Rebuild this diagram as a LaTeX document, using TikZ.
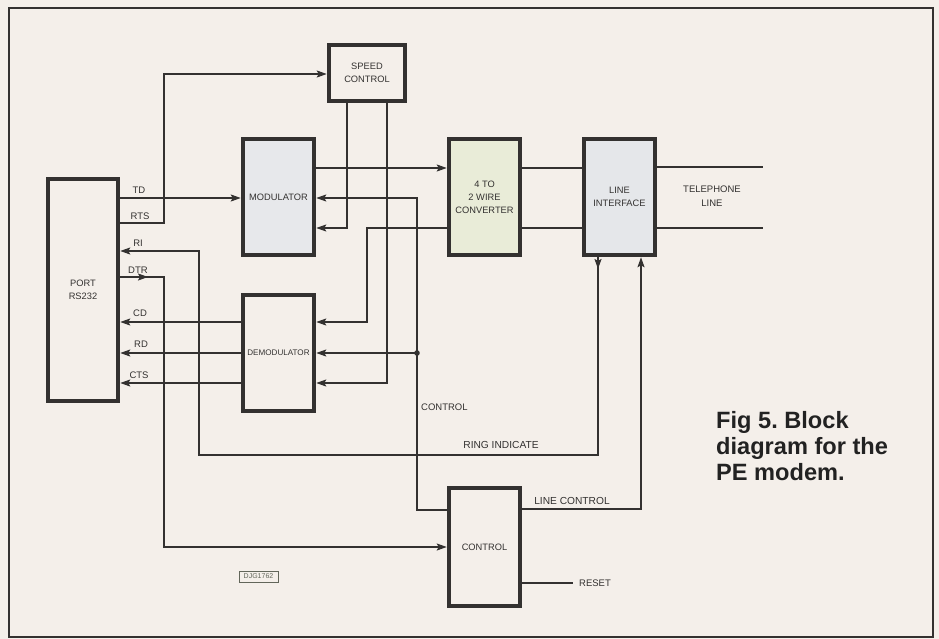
\documentclass[tikz,border=0pt]{standalone}
\usepackage{fontspec}
\setmainfont{Liberation Sans}
\usetikzlibrary{arrows.meta,calc}
\definecolor{bg}{HTML}{F4EFEA}
\definecolor{ink}{HTML}{333130}
\definecolor{modfill}{HTML}{E7E8EB}
\definecolor{convfill}{HTML}{E9ECD8}
\definecolor{lifill}{HTML}{E5E7EA}
\definecolor{djg}{HTML}{62665A}
\definecolor{capink}{HTML}{222222}
\begin{document}
\frenchspacing
\begin{tikzpicture}[x=1pt,y=-1pt,
  blk/.style={draw=ink, line width=4.5pt, inner sep=0pt, fill=bg,
    font=\fontsize{9.3}{12.8}\selectfont, text=ink, align=center},
  wire/.style={draw=ink, line width=1.8pt},
  arr/.style={wire, -{Stealth[length=10pt,width=7pt,inset=2pt]}},
  lab/.style={font=\fontsize{9.5}{14}\selectfont, text=ink, inner sep=0pt, align=center},
  biglab/.style={lab, font=\fontsize{10.2}{14}\selectfont},
  captext/.style={font=\fontsize{23.6}{26}\selectfont\bfseries, text=capink, inner sep=0pt, anchor=base west}]
\useasboundingbox (0,0) rectangle (939,639);
\fill[bg] (0,0) rectangle (939,639);
\draw[ink, line width=2pt] (9,8) rectangle (933,637);

% blocks
\node[blk, minimum width=70pt, minimum height=222pt] (port) at (83,290) {PORT\\RS232};
\node[blk, minimum width=76pt, minimum height=56pt] (speed) at (367,73) {SPEED\\CONTROL};
\node[blk, fill=modfill, minimum width=71pt, minimum height=116pt] (mod) at (278.5,197) {MODULATOR};
\node[blk, minimum width=71pt, minimum height=116pt, font=\fontsize{8.1}{10}\selectfont] (demod) at (278.5,353) {DEMODULATOR};
\node[blk, fill=convfill, minimum width=71pt, minimum height=116pt] (conv) at (484.5,197) {4 TO\\2 WIRE\\CONVERTER};
\node[blk, fill=lifill, minimum width=71pt, minimum height=116pt] (li) at (619.5,197) {LINE\\INTERFACE};
\node[blk, minimum width=71pt, minimum height=118pt] (ctrl) at (484.5,547) {CONTROL};

% free ends
\coordinate (tel1) at (763,167);
\coordinate (tel2) at (763,228);
\coordinate (rst) at (573,583);
\coordinate (j) at (417,353);

% port side
\draw[arr] (port.east |- 0,198) -- (mod.west |- 0,198);
\draw[arr] (port.east |- 0,223) -| (164,74) -- (speed.west |- 0,74);
\draw[arr] (li.south -| 598,0) |- (199,455) |- (port.east |- 0,251);
\draw[arr] (li.south -| 598,0) -- (598,269);
\draw[arr] (port.east |- 0,277) -| (164,547) -- (ctrl.west |- 0,547);
\draw[arr] (port.east |- 0,277) -- (148,277);
\draw[arr] (demod.west |- 0,322) -- (port.east |- 0,322);
\draw[arr] (demod.west |- 0,353) -- (port.east |- 0,353);
\draw[arr] (demod.west |- 0,383) -- (port.east |- 0,383);

% modulator / converter
\draw[arr] (mod.east |- 0,168) -- (conv.west |- 0,168);
\draw[arr] (conv.west |- 0,228) -| (367,322) -- (demod.east |- 0,322);
\draw[arr] (ctrl.west |- 0,510) -| (417,198) -- (mod.east |- 0,198);
\draw[arr] (j) -- (demod.east |- j);
\fill[ink] (j) circle (2.8pt);
\draw[arr] (speed.south -| 347,0) |- (mod.east |- 0,228);
\draw[arr] (speed.south -| 387,0) |- (demod.east |- 0,383);

% line side
\draw[wire] (conv.east |- 0,168) -- (li.west |- 0,168);
\draw[wire] (conv.east |- 0,228) -- (li.west |- 0,228);
\draw[wire] (li.east |- tel1) -- (tel1);
\draw[wire] (li.east |- tel2) -- (tel2);
\draw[arr] (ctrl.east |- 0,509) -| (li.south -| 641,0);
\draw[wire] (ctrl.east |- rst) -- (rst);

% labels
\node[lab] (lTD) at (139,190) {TD};
\node[lab] (lRTS) at (140,216) {RTS};
\node[lab] (lRI) at (138,243) {RI};
\node[lab] (lDTR) at (138,270) {DTR};
\node[lab] (lCD) at (140,313) {CD};
\node[lab] (lRD) at (141,344) {RD};
\node[lab] (lCTS) at (139,375) {CTS};
\node[lab] (ltel) at (712,196) {TELEPHONE\\LINE};
\node[lab, anchor=west] (lctl) at (421,407) {CONTROL};
\node[biglab] (lring) at (501,445) {RING INDICATE};
\node[biglab] (llc) at (572,501) {LINE CONTROL};
\node[lab, anchor=west] (lrst) at (579,583) {RESET};
\node[draw=djg, line width=0.9pt, text=djg, inner sep=0pt, minimum width=39pt, minimum height=11pt,
  font=\fontsize{7}{7}\selectfont] (djgbox) at (258.5,576.5) {DJG1762};

% caption
\node[captext] (cap1) at (716,428) {Fig 5. Block};
\node[captext] (cap2) at (716,454) {diagram for the};
\node[captext] (cap3) at (716,480) {PE modem.};
\end{tikzpicture}
\end{document}
